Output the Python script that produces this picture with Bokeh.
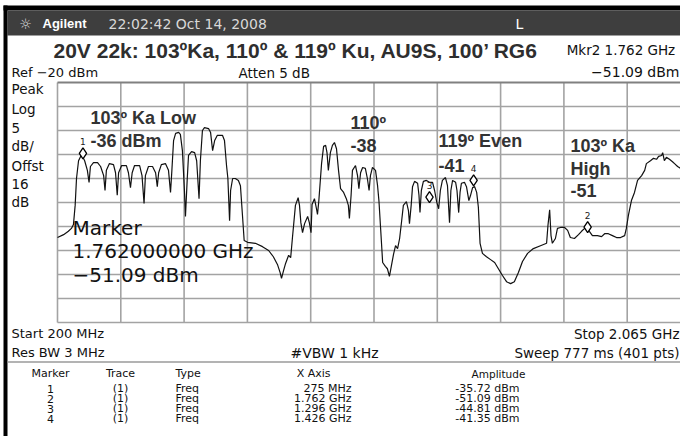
from bokeh.plotting import figure
from bokeh.models import Range1d, ColumnDataSource
from bokeh.core.properties import value
from bokeh.embed import file_html
from bokeh.resources import INLINE

# ---------------- data ----------------
freq_mhz = [200, 218, 232, 241, 247, 252, 256, 262, 271, 280, 288, 293, 297, 306, 318, 327, 336, 340, 344, 353,
            365, 371, 376, 380, 389, 403, 409, 415, 420, 427, 442, 449, 455, 459, 468, 480, 489, 494, 498, 506,
            518, 527, 533, 537, 542, 548, 557, 562, 568, 574, 577, 582, 586, 595, 604, 610, 617, 621, 627, 633,
            645, 651, 657, 663, 671, 686, 692, 698, 702, 707, 710, 716, 724, 733, 739, 745, 750, 760, 783, 804,
            822, 836, 848, 856, 860, 866, 872, 881, 887, 892, 901, 909, 913, 917, 922, 928, 937, 942, 947, 950,
            957, 963, 966, 970, 978, 984, 990, 994, 998, 1004, 1010, 1016, 1022, 1028, 1034, 1043, 1051, 1057, 1060, 1065,
            1069, 1078, 1084, 1088, 1093, 1099, 1107, 1113, 1118, 1122, 1128, 1137, 1143, 1147, 1152, 1158, 1166, 1172, 1178, 1184,
            1190, 1196, 1202, 1208, 1214, 1219, 1228, 1234, 1237, 1242, 1246, 1252, 1261, 1265, 1268, 1272, 1278, 1287, 1296, 1305,
            1311, 1317, 1323, 1328, 1334, 1343, 1349, 1355, 1359, 1364, 1373, 1377, 1382, 1386, 1390, 1399, 1405, 1412, 1417, 1423,
            1429, 1435, 1440, 1445, 1452, 1464, 1476, 1488, 1499, 1511, 1523, 1535, 1546, 1558, 1570, 1585, 1602, 1623, 1641, 1645,
            1650, 1654, 1658, 1667, 1673, 1682, 1694, 1703, 1711, 1723, 1735, 1744, 1753, 1762, 1767, 1776, 1791, 1803, 1812, 1823,
            1835, 1847, 1859, 1871, 1876, 1882, 1891, 1900, 1909, 1921, 1930, 1935, 1947, 1956, 1965, 1971, 1980, 1983, 1988, 1994,
            2003, 2012, 2018, 2027, 2036, 2044, 2053, 2059, 2065]
level_dbm = [-52.3, -51.7, -51.0, -50.4, -49.6, -45.6, -40.0, -36.3, -35.0, -36.3, -38.3, -40.8, -37.5, -36.7, -36.7, -37.5, -39.4, -42.5, -38.3, -36.9,
             -37.1, -38.8, -43.5, -38.8, -37.3, -37.3, -38.8, -41.9, -38.8, -37.3, -37.3, -39.4, -45.2, -39.4, -37.5, -37.5, -38.8, -41.7, -38.8, -37.1,
             -36.9, -38.3, -42.9, -38.3, -32.1, -30.6, -30.4, -30.8, -34.2, -42.5, -47.9, -40.4, -35.2, -34.4, -34.6, -36.3, -44.2, -36.3, -30.0, -29.4,
             -29.6, -30.4, -34.2, -32.1, -31.0, -31.0, -32.1, -37.3, -40.0, -48.8, -42.5, -40.0, -40.0, -40.4, -41.5, -47.7, -52.9, -53.3, -53.5, -54.2,
             -55.0, -56.3, -57.9, -59.6, -60.8, -59.2, -57.7, -56.0, -56.5, -52.5, -45.6, -44.0, -45.6, -49.2, -51.3, -49.4, -47.9, -49.2, -51.3, -45.4,
             -44.2, -46.3, -47.5, -44.6, -36.9, -33.3, -33.1, -34.6, -38.3, -34.6, -33.1, -32.5, -33.8, -38.3, -42.1, -42.9, -44.2, -45.6, -48.3, -43.5,
             -38.3, -37.3, -39.4, -42.1, -38.8, -37.7, -37.9, -40.0, -42.5, -39.4, -37.7, -38.3, -41.5, -44.6, -50.4, -57.5, -58.3, -58.8, -60.4, -58.1,
             -55.8, -54.0, -54.6, -52.5, -48.8, -45.6, -44.8, -46.7, -49.4, -45.6, -41.7, -40.6, -41.0, -43.5, -47.1, -42.5, -40.6, -40.4, -40.8, -40.8,
             -42.5, -44.8, -46.3, -42.5, -40.4, -39.8, -41.5, -49.2, -42.5, -40.4, -40.8, -42.5, -47.1, -42.9, -41.0, -40.8, -41.7, -44.6, -43.5, -41.9,
             -41.7, -42.9, -46.0, -53.5, -55.6, -56.3, -56.9, -57.5, -58.8, -60.2, -61.5, -61.9, -61.5, -59.6, -57.3, -55.6, -54.6, -54.0, -53.5, -49.8,
             -46.5, -51.9, -53.5, -52.5, -50.4, -50.2, -50.2, -50.8, -52.3, -52.5, -51.7, -51.0, -50.4, -50.2, -51.0, -51.9, -51.9, -52.1, -51.5, -51.5,
             -51.9, -52.3, -52.3, -51.9, -50.4, -47.7, -44.6, -42.9, -40.4, -39.4, -38.3, -36.9, -36.3, -35.8, -36.0, -35.4, -35.2, -34.6, -36.3, -35.6,
             -36.0, -36.5, -36.9, -37.5, -37.9, -38.8, -39.6, -40.0, -40.3]

marker_no = ["1", "2", "3", "4"]
marker_trace = ["(1)", "(1)", "(1)", "(1)"]
marker_type = ["Freq", "Freq", "Freq", "Freq"]
marker_freq_mhz = [275, 1762, 1296, 1426]
marker_x_text = ["275 MHz", "1.762 GHz", "1.296 GHz", "1.426 GHz"]
marker_amp_dbm = [-35.72, -51.09, -44.81, -41.35]
marker_amp_text = ["-35.72 dBm", "-51.09 dBm", "-44.81 dBm", "-41.35 dBm"]

ref_level_dbm = -20
db_per_div = 5
start_mhz = 200
stop_mhz = 2065
n_div = 10

# ---------------- layout ----------------
W, H = 680, 436
GL, GT = 57.0, 82.0      # grid left / top (canvas px)
DW, DH = 63.3, 24.0      # division size (px)
MARK_OFF_DB = 0.95       # marker symbol drawn slightly above its point
RX = W - 1               # right edge for right-aligned texts
FS = 13.5                # instrument text size

mhz_per_px = (stop_mhz - start_mhz) / (n_div * DW)
db_per_px = db_per_div / DH
f0 = start_mhz - GL * mhz_per_px
f1 = start_mhz + (W - GL) * mhz_per_px
d_top = ref_level_dbm + GT * db_per_px
d_bot = ref_level_dbm - (H - GT) * db_per_px

p = figure(width=W, height=H, x_range=Range1d(0, W), y_range=Range1d(H, 0),
           output_backend="svg", toolbar_location=None, min_border=0,
           x_axis_location=None, y_axis_location=None,
           background_fill_color="white", border_fill_color="white",
           outline_line_color=None)
p.grid.grid_line_color = None
p.extra_x_ranges = {"f": Range1d(f0, f1)}
p.extra_y_ranges = {"db": Range1d(d_bot, d_top)}

# header bars / borders
p.quad(left=[3], right=[W], top=[5], bottom=[10], fill_color="black", line_color=None)
p.quad(left=[7], right=[W], top=[10], bottom=[35], fill_color="#3e3e3e", line_color=None)
p.quad(left=[3], right=[7], top=[5], bottom=[H], fill_color="black", line_color=None)

# grid
bottom_db = ref_level_dbm - n_div * db_per_div
vx = [start_mhz + i * (stop_mhz - start_mhz) / n_div for i in range(n_div + 1)]
p.segment(x0=vx, x1=vx, y0=[bottom_db] * len(vx), y1=[ref_level_dbm] * len(vx),
          x_range_name="f", y_range_name="db", line_color="#a3a3a3", line_width=1.6)
hy = [ref_level_dbm - j * db_per_div for j in range(1, n_div + 1)]
p.segment(x0=[start_mhz] * len(hy), x1=[stop_mhz] * len(hy), y0=hy, y1=hy,
          x_range_name="f", y_range_name="db", line_color="#a3a3a3", line_width=1.6)
p.segment(x0=[start_mhz], x1=[stop_mhz], y0=[ref_level_dbm], y1=[ref_level_dbm],
          x_range_name="f", y_range_name="db", line_color="#808080", line_width=2)

# separator line above the marker table
p.segment(x0=[7], x1=[W], y0=[361.5], y1=[361.5], line_color="#9a9a9a", line_width=1.5)

# trace
p.line(freq_mhz, level_dbm, x_range_name="f", y_range_name="db", line_color="#111111", line_width=1.2)

# markers
msrc = ColumnDataSource(dict(f=marker_freq_mhz, a=[a + MARK_OFF_DB for a in marker_amp_dbm], n=marker_no))
p.scatter("f", "a", source=msrc, marker="diamond", size=11, fill_color="white",
          line_color="black", line_width=1.3, x_range_name="f", y_range_name="db")
p.text("f", "a", text="n", source=msrc, x_range_name="f", y_range_name="db", y_offset=-12,
       text_font=value("DejaVu Sans"), text_font_size="9px", text_align="center",
       text_baseline="middle", text_color="#222222")


def txt(x, y, s, size, font="DejaVu Sans", color="#111111", align="left", style="normal"):
    p.text(x=[x], y=[y], text=[s], text_font=value(font), text_font_size=f"{size}px",
           text_align=align, text_baseline="middle", text_color=color, text_font_style=style)


# top bar
txt(25, 23, "☼", 14, color="#dddddd", align="center")
txt(42, 23, "Agilent", 13, font="Liberation Sans", color="white", style="bold")
txt(108, 23, "22:02:42  Oct 14, 2008", 14, color="#d8d8d8")
txt(519, 23, "L", 14, color="white", align="center")

# title and header
txt(53, 49.5, "20V 22k: 103ºKa, 110º & 119º Ku, AU9S, 100’ RG6", 21, font="Liberation Sans",
    color="#2e2e2e", style="bold")
txt(RX, 49, "Mkr2  1.762 GHz", FS, align="right")
txt(11, 72, "Ref −20 dBm", 13)
txt(238, 72, "Atten 5 dB", FS)
txt(RX, 71, "−51.09 dBm", 14, align="right")
for yy, s in zip([88, 108, 127, 145, 165, 183, 201], ["Peak", "Log", "5", "dB/", "Offst", "16", "dB"]):
    txt(11, yy, s, FS)

# annotations on the trace
ann_col = "#333333"
for x, y, s in [(90, 117, "103º Ka Low"), (90, 140, "-36 dBm"), (350, 122, "110º"), (350, 145, "-38"),
                (438, 140, "119º Even"), (438, 165, "-41"), (570, 145, "103º Ka"), (570, 168, "High"),
                (570, 190, "-51")]:
    txt(x, y, s, 18, font="Liberation Sans", color=ann_col, style="bold")

txt(72, 227, "Marker", 20)
txt(72, 250, "1.762000000 GHz", 20)
txt(72, 274, "−51.09 dBm", 20)

# bottom info
txt(11, 333, "Start 200 MHz", 13)
txt(RX, 333, "Stop 2.065 GHz", FS, align="right")
txt(11, 352, "Res BW 3 MHz", 13)
txt(290, 352, "#VBW 1 kHz", 14)
txt(RX, 352, "Sweep 777 ms (401 pts)", FS, align="right")

# marker table
txt(50, 373, "Marker", 11, align="center")
txt(120, 373, "Trace", 11, align="center")
txt(175, 373, "Type", 11)
txt(330, 373, "X Axis", 11, align="right")
txt(498, 373, "Amplitude", 10.5, align="center")
rows_y = [388 + 10 * i for i in range(len(marker_no))]
tsrc = ColumnDataSource(dict(y=rows_y, n=marker_no, tr=marker_trace, ty=marker_type,
                             xs=marker_x_text, am=marker_amp_text))
for col, xx, al in [("n", 50, "center"), ("tr", 120, "center"), ("ty", 175, "left"),
                    ("xs", 351, "right"), ("am", 519, "right")]:
    p.text(x=xx, y="y", text=col, source=tsrc, text_font=value("DejaVu Sans"), text_font_size="11px",
           text_align=al, text_baseline="middle", text_color="#111111")

open("out.html", "w").write(file_html(p, INLINE))
